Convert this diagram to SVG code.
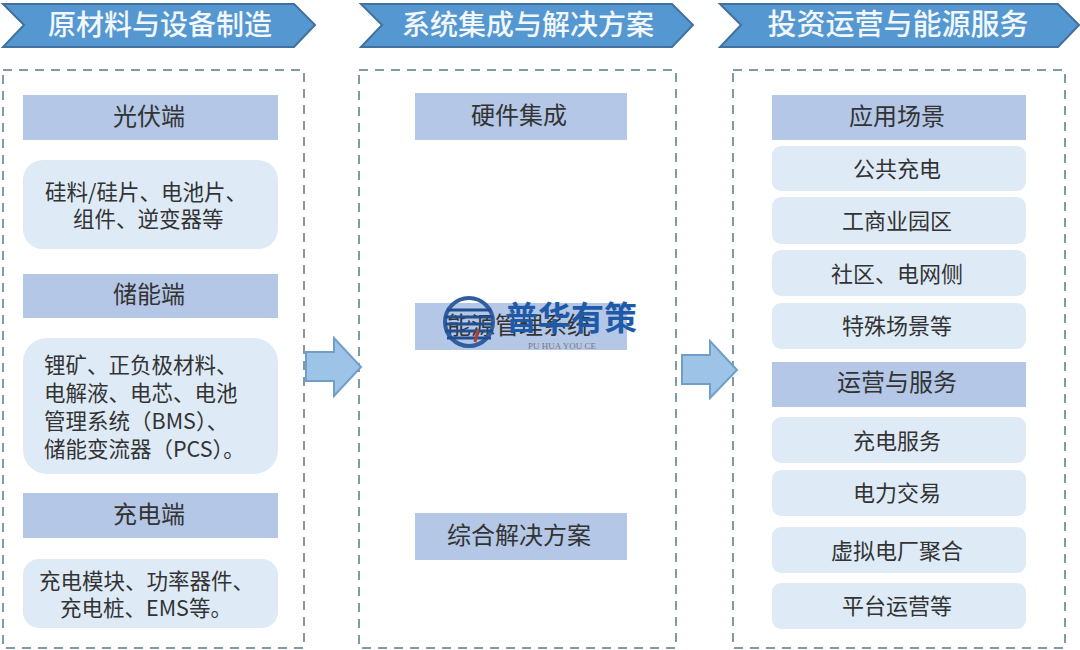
<svg xmlns="http://www.w3.org/2000/svg" width="1080" height="650" viewBox="0 0 1080 650">
<style>
text{font-family:"Noto Sans CJK SC","Liberation Sans",sans-serif;text-anchor:middle;fill:#333;font-size:24px}
.hd polygon{fill:#5597d0;stroke:#41719c;stroke-width:2}
.hd text{fill:#f2f7fb;font-size:28px;font-weight:500}
.box{fill:#fff;stroke:#7f9ca6;stroke-width:2;stroke-dasharray:9 7}
.t{fill:#b4c7e7}
.r{fill:#deebf7}
.ar{fill:#9dc3e6;stroke:#6f9fc8;stroke-width:2}
text.s{font-size:22px}
text.l{font-size:21.5px;text-anchor:start}
</style>
<rect width="1080" height="650" fill="#fff"/>
<g id="head1" class="hd"><polygon points="3,4 294,4 315,25 294,47 3,47 24,25"/><text x="160" y="35">原材料与设备制造</text></g>
<g id="head2" class="hd"><polygon points="361,4 672,4 693,25 672,47 361,47 382,25"/><text x="528" y="35">系统集成与解决方案</text></g>
<g id="head3" class="hd"><polygon points="720,4 1058,4 1079,25 1058,47 720,47 741,25"/><text x="898" y="35" style="font-size:29px">投资运营与能源服务</text></g>
<g id="panel1"><rect class="box" x="3" y="70" width="301" height="578"/></g>
<g id="panel2"><rect class="box" x="359" y="70" width="317" height="578"/></g>
<g id="panel3"><rect class="box" x="733" y="70" width="332" height="578"/></g>
<g id="n1"><rect class="t" x="23" y="95" width="255" height="45"/><text x="149" y="125">光伏端</text></g>
<g id="n2"><rect class="r" x="23" y="160" width="255" height="89" rx="20"/><text class="l" x="45" y="200">硅料/硅片、电池片、</text><text class="l" x="73" y="227">组件、逆变器等</text></g>
<g id="n3"><rect class="t" x="23" y="274" width="255" height="44"/><text x="149" y="303">储能端</text></g>
<g id="n4"><rect class="r" x="23" y="338" width="255" height="136" rx="24"/><text class="l" x="44" y="373">锂矿、正负极材料、</text><text class="l" x="44" y="401">电解液、电芯、电池</text><text class="l" x="44" y="429">管理系统（BMS）、</text><text class="l" x="44" y="457">储能变流器（PCS）。</text></g>
<g id="n5"><rect class="t" x="23" y="493" width="255" height="45"/><text x="149" y="523">充电端</text></g>
<g id="n6"><rect class="r" x="23" y="559" width="255" height="69" rx="16"/><text class="l" x="39" y="589">充电模块、功率器件、</text><text class="l" x="60" y="616">充电桩、EMS等。</text></g>
<g id="n7"><rect class="t" x="415" y="93" width="212" height="47"/><text x="519" y="124">硬件集成</text></g>
<g id="n8"><rect class="t" x="415" y="303" width="212" height="47"/><text x="519" y="334">能源管理系统</text></g>
<g id="n9"><rect class="t" x="415" y="513" width="212" height="47"/><text x="519" y="544">综合解决方案</text></g>
<g id="n10"><rect class="t" x="772" y="95" width="254" height="45"/><text x="897" y="125">应用场景</text></g>
<g id="n11"><rect class="r" x="772" y="146" width="254" height="45" rx="9"/><text class="s" x="897" y="177">公共充电</text></g>
<g id="n12"><rect class="r" x="772" y="197" width="254" height="47" rx="9"/><text class="s" x="897" y="229">工商业园区</text></g>
<g id="n13"><rect class="r" x="772" y="250" width="254" height="46" rx="9"/><text class="s" x="897" y="282">社区、电网侧</text></g>
<g id="n14"><rect class="r" x="772" y="303" width="254" height="46" rx="9"/><text class="s" x="897" y="334">特殊场景等</text></g>
<g id="n15"><rect class="t" x="772" y="362" width="254" height="45"/><text x="897" y="391">运营与服务</text></g>
<g id="n16"><rect class="r" x="772" y="417" width="254" height="46" rx="9"/><text class="s" x="897" y="449">充电服务</text></g>
<g id="n17"><rect class="r" x="772" y="470" width="254" height="46" rx="9"/><text class="s" x="897" y="501">电力交易</text></g>
<g id="n18"><rect class="r" x="772" y="527" width="254" height="46" rx="9"/><text class="s" x="897" y="559">虚拟电厂聚合</text></g>
<g id="n19"><rect class="r" x="772" y="583" width="254" height="46" rx="9"/><text class="s" x="897" y="614">平台运营等</text></g>
<g id="connectors"><polygon class="ar" points="306,352 334,352 334,338 361,367 334,396 334,381 306,381"/><polygon class="ar" points="682,355 710,355 710,341 737,370 710,398 710,384 682,384"/></g>
<g id="watermark"><circle cx="469" cy="322" r="24" fill="none" stroke="#2f5f9e" stroke-width="4"/><path d="M447 310h44M445 317h48M445 324h48M445 331h48M447 338h44" stroke="#1f4f8f" stroke-width="3"/><path d="M478 330l-3 12" stroke="#c0392b" stroke-width="3"/><text x="571" y="330" style="font-size:33px;font-weight:700;fill:#1f5aa8">普华有策</text><text x="562" y="349" style="font-size:9px;fill:#777;font-family:'Liberation Serif',serif">PU HUA YOU CE</text></g>
</svg>
